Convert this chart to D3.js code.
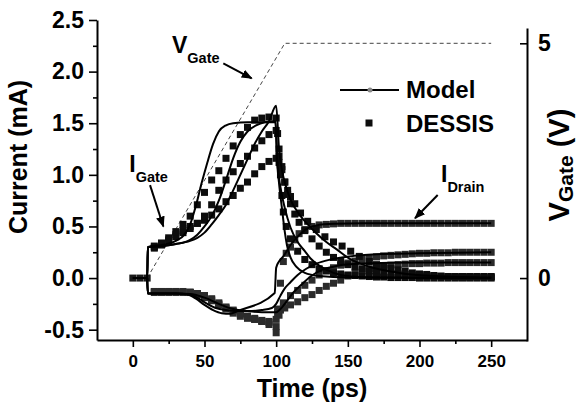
<!DOCTYPE html>
<html>
<head>
<meta charset="utf-8">
<script src="https://cdn.jsdelivr.net/npm/d3@7/dist/d3.min.js"></script>
<style>
    body { margin: 0; background: #fff; }
    svg { display: block; font-family: "Liberation Sans", Arial, sans-serif; font-weight: bold; }
</style>
</head>
<body>
<script>
// ---- data (time in ps, current in mA, gate voltage in V) ----
var xTicks = [0, 50, 100, 150, 200, 250];
var xMinor = [25, 75, 125, 175, 225];
var yTicks = [-0.5, 0, 0.5, 1.0, 1.5, 2.0, 2.5];
var yMinor = [-0.25, 0.25, 0.75, 1.25, 1.75, 2.25];
var vTicks = [0, 5];

var vGate = [[10, 0], [106, 5], [250, 5]];

// squares before the step, common to all DESSIS runs
var dessisStart = [[0, 0], [5, 0], [10, 0]];

var dessisGateA = [[15,0.31],[20,0.34],[25,0.39],[30,0.45],[35,0.52],[40,0.60],[45,0.71],[50,0.83],[55,0.95],[60,1.04],[65,1.16],[70,1.28],[75,1.39],[80,1.46],[85,1.53],[90,1.55],[95,1.56],[100,1.55],
    [101,1.40],[102,1.18],[103,1.00],[104,0.80],[105,0.64],[107,0.50],[110,0.38],[115,0.26],[120,0.18],[125,0.13],[130,0.09],[135,0.07],[140,0.05],[145,0.04],[150,0.03],[155,0.025],[160,0.02],[165,0.015],[170,0.01],[175,0.01],[180,0.005],[185,0.005],[190,0.005],[195,0.005],[200,0],[205,0],[210,0],[215,0],[220,0],[225,0],[230,0],[235,0],[240,0],[245,0],[250,0]];
var dessisGateB = [[15,0.30],[20,0.33],[25,0.36],[30,0.40],[35,0.44],[40,0.48],[45,0.53],[50,0.60],[55,0.71],[60,0.85],[65,0.95],[70,1.03],[75,1.11],[80,1.18],[85,1.26],[90,1.33],[95,1.39],[100,1.43],
    [102,1.25],[104,1.08],[106,0.93],[108,0.81],[110,0.72],[113,0.62],[116,0.54],[120,0.46],[125,0.38],[130,0.31],[135,0.25],[140,0.20],[145,0.16],[150,0.13],[155,0.11],[160,0.09],[165,0.07],[170,0.06],[175,0.05],[180,0.045],[185,0.04],[190,0.035],[195,0.03],[200,0.025],[205,0.02],[210,0.02],[215,0.015],[220,0.015],[225,0.01],[230,0.01],[235,0.01],[240,0.01],[245,0.01],[250,0.01]];
var dessisGateC = [[15,0.29],[20,0.32],[25,0.37],[30,0.42],[35,0.46],[40,0.50],[45,0.53],[50,0.56],[55,0.61],[60,0.67],[65,0.74],[70,0.80],[75,0.87],[80,0.93],[85,1.01],[90,1.08],[95,1.13],[100,1.16],
    [102,1.12],[104,1.05],[106,0.93],[108,0.85],[110,0.79],[113,0.72],[117,0.63],[122,0.55],[128,0.47],[134,0.40],[140,0.35],[146,0.31],[152,0.26],[158,0.21],[165,0.16],[170,0.13],[175,0.11],[180,0.095],[185,0.08],[190,0.065],[195,0.05],[200,0.04],[205,0.035],[210,0.025],[215,0.02],[220,0.015],[225,0.015],[230,0.015],[235,0.015],[240,0.015],[245,0.015],[250,0.015]];

var dessisDrainA = [[15,-0.13],[20,-0.13],[25,-0.13],[30,-0.13],[35,-0.135],[40,-0.14],[45,-0.16],[50,-0.19],[55,-0.22],[60,-0.25],[65,-0.29],[70,-0.32],[75,-0.35],[80,-0.37],[85,-0.39],[90,-0.41],[95,-0.43],[100,-0.47],
    [101,-0.30],[103,-0.05],[105,0.16],[107,0.24],[110,0.30],[113,0.37],[116,0.43],[120,0.47],[125,0.50],[130,0.515],[135,0.52],[140,0.525],[145,0.53],[150,0.53],[155,0.53],[160,0.53],[165,0.53],[170,0.53],[175,0.53],[180,0.53],[185,0.53],[190,0.53],[195,0.53],[200,0.53],[205,0.53],[210,0.53],[215,0.53],[220,0.53],[225,0.53],[230,0.53],[235,0.53],[240,0.53],[245,0.53],[250,0.53]];
var dessisDrainB = [[15,-0.13],[20,-0.13],[25,-0.13],[30,-0.13],[35,-0.13],[40,-0.135],[45,-0.15],[50,-0.17],[55,-0.20],[60,-0.24],[65,-0.28],[70,-0.31],[75,-0.34],[80,-0.37],[85,-0.40],[90,-0.42],[95,-0.45],[100,-0.53],
    [102,-0.36],[105,-0.24],[110,-0.17],[115,-0.12],[120,-0.07],[125,-0.02],[130,0.03],[135,0.07],[140,0.10],[145,0.125],[150,0.145],[155,0.165],[160,0.18],[165,0.195],[170,0.205],[175,0.215],[180,0.22],[185,0.225],[190,0.23],[195,0.235],[200,0.24],[205,0.24],[210,0.245],[215,0.245],[220,0.245],[225,0.25],[230,0.25],[235,0.25],[240,0.25],[245,0.25],[250,0.25]];
var dessisDrainC = [[15,-0.14],[20,-0.14],[25,-0.14],[30,-0.14],[35,-0.14],[40,-0.14],[45,-0.15],[50,-0.17],[55,-0.21],[60,-0.26],[65,-0.30],[70,-0.34],[75,-0.37],[80,-0.39],[85,-0.40],[90,-0.42],[95,-0.42],[100,-0.40],
    [101,-0.34],[103,-0.31],[106,-0.29],[110,-0.26],[115,-0.23],[120,-0.19],[125,-0.16],[130,-0.12],[135,-0.08],[140,-0.05],[145,-0.02],[150,0.02],[155,0.05],[160,0.07],[165,0.09],[170,0.105],[175,0.115],[180,0.125],[185,0.13],[190,0.135],[195,0.14],[200,0.14],[205,0.145],[210,0.145],[215,0.145],[220,0.15],[225,0.15],[230,0.15],[235,0.15],[240,0.15],[245,0.15],[250,0.15]];

var modelGateA = [[0,0],[10,0],[10.5,0.30],[20,0.32],[30,0.36],[36,0.42],[40,0.52],[44,0.70],[48,0.92],[52,1.12],[56,1.30],[60,1.42],[65,1.48],[70,1.50],[80,1.51],[90,1.51],[99.5,1.51],[100.5,1.16],[102,0.92],[104,0.68],[106,0.45],[107.5,0.32],[110,0.20],[114,0.11],[120,0.05],[130,0.02],[150,0.005],[250,0]];
var modelGateB = [[0,0],[10,0],[10.5,0.30],[20,0.31],[30,0.33],[40,0.37],[45,0.42],[50,0.50],[55,0.60],[60,0.75],[65,0.95],[70,1.16],[75,1.32],[80,1.42],[86,1.48],[92,1.51],[99.5,1.52],[101,1.10],[103,0.88],[106,0.68],[110,0.49],[115,0.35],[120,0.26],[124,0.19],[130,0.12],[140,0.05],[152,0.015],[170,0.005],[250,0]];
var modelGateC = [[0,0],[10,0],[10.5,0.30],[20,0.31],[30,0.33],[40,0.36],[45,0.39],[50,0.44],[55,0.52],[60,0.61],[65,0.71],[70,0.85],[75,1.00],[80,1.15],[85,1.30],[90,1.42],[95,1.52],[100,1.67],[102,1.25],[104,1.05],[107,0.88],[110,0.76],[116,0.62],[122,0.52],[128,0.435],[135,0.35],[142,0.28],[152,0.18],[165,0.11],[186,0.05],[210,0.02],[250,0.005]];

var modelDrainA = [[10,0],[10.5,-0.15],[20,-0.15],[30,-0.15],[38,-0.16],[44,-0.20],[50,-0.26],[56,-0.31],[62,-0.34],[68,-0.345],[73,-0.32],[99,-0.145],[100,0.10],[102,0.16],[105,0.21],[110,0.32],[117,0.43],[123,0.49],[128,0.51],[140,0.525],[160,0.53],[250,0.53]];
var modelDrainB = [[10,0],[10.5,-0.15],[30,-0.15],[40,-0.16],[46,-0.20],[52,-0.25],[58,-0.29],[65,-0.31],[72,-0.32],[80,-0.32],[90,-0.31],[97,-0.29],[100,-0.25],[103,-0.17],[106,-0.10],[110,-0.04],[115,0.03],[121,0.09],[128,0.14],[138,0.18],[151,0.21],[170,0.23],[200,0.24],[250,0.25]];
var modelDrainC = [[10,0],[10.5,-0.15],[30,-0.15],[40,-0.155],[50,-0.19],[60,-0.25],[70,-0.30],[80,-0.32],[90,-0.33],[100,-0.33],[103,-0.30],[106,-0.25],[112,-0.14],[118,-0.06],[124,0.015],[132,0.08],[140,0.11],[147,0.13],[160,0.14],[200,0.15],[250,0.15]];

// label anchors in data units: [time, current]
var vGateLabel = [27.3, 2.18], vGateArrow = [[63.1, 2.08], [82.9, 1.935]];
var iGateLabel = [-2.5, 1.03], iGateArrow = [[12.0, 0.90], [21.3, 0.50]];
var iDrainLabel = [215, 0.93], iDrainArrow = [[212.7, 0.805], [196.9, 0.58]];

(function() {
    var w = 579,
        h = 405;
    var left = 97, right = 527, top = 20, bottom = 340;

    var svg = d3.select('body').append('svg')
        .attr('width', w)
        .attr('height', h);

    var x = d3.scaleLinear().domain([-25, 275]).range([left, right]);
    var y = d3.scaleLinear().domain([-0.6, 2.5]).range([bottom, top]);
    // right axis: 0 V and 5 V sit on their own positions
    var yV = d3.scaleLinear().domain([0, 5]).range([y(0), 43.3]);

    var defs = svg.append('defs');
    defs.append('marker')
        .attr('id', 'head')
        .attr('viewBox', '0 0 10 8')
        .attr('refX', 9)
        .attr('refY', 4)
        .attr('markerUnits', 'userSpaceOnUse')
        .attr('markerWidth', 11)
        .attr('markerHeight', 9)
        .attr('orient', 'auto')
        .append('path')
        .attr('d', 'M0,0L10,4L0,8Z')
        .attr('fill', '#000');

    // ---- axes ----
    function styleAxis(g, size) {
        g.select('.domain').attr('stroke-width', 2);
        g.selectAll('.tick line').attr('stroke-width', 1.6);
        g.selectAll('text')
            .attr('font-family', '"Liberation Sans", Arial, sans-serif')
            .attr('font-weight', 'bold')
            .attr('font-size', size)
            .attr('fill', '#000');
    }

    var gx = svg.append('g')
        .attr('transform', 'translate(0,' + bottom + ')')
        .call(d3.axisBottom(x).tickValues(xTicks).tickSize(7).tickSizeOuter(0).tickPadding(8));
    styleAxis(gx, 17);
    var gxm = svg.append('g')
        .attr('transform', 'translate(0,' + bottom + ')')
        .call(d3.axisBottom(x).tickValues(xMinor).tickSize(4).tickSizeOuter(0).tickFormat(''));
    gxm.select('.domain').remove();
    gxm.selectAll('.tick line').attr('stroke-width', 1.6);

    var gy = svg.append('g')
        .attr('transform', 'translate(' + left + ',0)')
        .call(d3.axisLeft(y).tickValues(yTicks).tickSize(8).tickSizeOuter(0).tickPadding(5)
            .tickFormat(function(d) { return d.toFixed(1); }));
    styleAxis(gy, 23);
    var gym = svg.append('g')
        .attr('transform', 'translate(' + left + ',0)')
        .call(d3.axisLeft(y).tickValues(yMinor).tickSize(4).tickSizeOuter(0).tickFormat(''));
    gym.select('.domain').remove();
    gym.selectAll('.tick line').attr('stroke-width', 1.6);

    var yVaxis = yV.copy().domain([yV.invert(bottom + 1), yV.invert(28)]).range([bottom + 1, 28]);
    var gv = svg.append('g')
        .attr('transform', 'translate(' + right + ',0)')
        .call(d3.axisRight(yVaxis).tickValues(vTicks).tickSize(-7).tickSizeOuter(0).tickPadding(11)
            .tickFormat(d3.format('d')));
    styleAxis(gv, 23);

    // axis titles
    svg.append('text')
        .attr('x', (left + right) / 2)
        .attr('y', 397)
        .attr('text-anchor', 'middle')
        .attr('font-size', 25)
        .text('Time (ps)');
    svg.append('text')
        .attr('transform', 'translate(27,157) rotate(-90)')
        .attr('text-anchor', 'middle')
        .attr('font-size', 25)
        .text('Current (mA)');
    var vt = svg.append('text')
        .attr('transform', 'translate(569,165) rotate(-90)')
        .attr('text-anchor', 'middle')
        .attr('font-size', 29);
    vt.append('tspan').text('V');
    vt.append('tspan').attr('font-size', 21).attr('dy', 4).text('Gate');
    vt.append('tspan').attr('dy', -4).text(' (V)');

    // ---- gate voltage (right axis) ----
    svg.append('path')
        .datum(vGate)
        .attr('fill', 'none')
        .attr('stroke', '#444')
        .attr('stroke-width', 1)
        .attr('stroke-dasharray', '4,3')
        .attr('d', d3.line().x(function(d) { return x(d[0]); }).y(function(d) { return yV(d[1]); }));

    // ---- DESSIS squares ----
    var sq = 7;
    var dessis = [
        {pts: dessisStart, fill: '#1a1a1a'},
        {pts: dessisDrainA, fill: '#2b2b2b'},
        {pts: dessisDrainB, fill: '#2b2b2b'},
        {pts: dessisDrainC, fill: '#2b2b2b'},
        {pts: dessisGateC, fill: '#0d0d0d'},
        {pts: dessisGateB, fill: '#0d0d0d'},
        {pts: dessisGateA, fill: '#0d0d0d'}
    ];
    svg.append('g')
        .selectAll('g')
        .data(dessis)
        .enter()
        .append('g')
        .attr('fill', function(d) { return d.fill; })
        .selectAll('rect')
        .data(function(d) { return d.pts; })
        .enter()
        .append('rect')
        .attr('x', function(d) { return x(d[0]) - sq / 2; })
        .attr('y', function(d) { return y(d[1]) - sq / 2; })
        .attr('width', sq)
        .attr('height', sq);

    // ---- model lines ----
    var line = d3.line()
        .x(function(d) { return x(d[0]); })
        .y(function(d) { return y(d[1]); })
        .curve(d3.curveMonotoneX);
    svg.append('g')
        .selectAll('path')
        .data([modelGateA, modelGateB, modelGateC, modelDrainA, modelDrainB, modelDrainC])
        .enter()
        .append('path')
        .attr('fill', 'none')
        .attr('stroke', '#000')
        .attr('stroke-width', 2)
        .attr('stroke-linejoin', 'round')
        .attr('d', line);

    // ---- annotations ----
    function label(pos, main, sub) {
        var t = svg.append('text')
            .attr('x', x(pos[0]))
            .attr('y', y(pos[1]))
            .attr('font-size', 23);
        t.append('tspan').text(main);
        t.append('tspan').attr('font-size', 14.5).attr('dy', 10).text(sub);
    }
    function arrow(a) {
        svg.append('line')
            .attr('x1', x(a[0][0])).attr('y1', y(a[0][1]))
            .attr('x2', x(a[1][0])).attr('y2', y(a[1][1]))
            .attr('stroke', '#000')
            .attr('stroke-width', 2)
            .attr('marker-end', 'url(#head)');
    }
    label(vGateLabel, 'V', 'Gate');
    arrow(vGateArrow);
    label(iGateLabel, 'I', 'Gate');
    arrow(iGateArrow);
    label(iDrainLabel, 'I', 'Drain');
    arrow(iDrainArrow);

    // ---- legend ----
    var lg = svg.append('g').attr('transform', 'translate(340,0)');
    lg.append('line')
        .attr('x1', 0).attr('x2', 59)
        .attr('y1', 90).attr('y2', 90)
        .attr('stroke', '#000')
        .attr('stroke-width', 2);
    lg.append('circle')
        .attr('cx', 30).attr('cy', 90).attr('r', 2.5)
        .attr('fill', '#888');
    lg.append('text')
        .attr('x', 66).attr('y', 98)
        .attr('font-size', 24)
        .text('Model');
    lg.append('rect')
        .attr('x', 29 - sq / 2).attr('y', 123 - sq / 2)
        .attr('width', sq).attr('height', sq)
        .attr('fill', '#0d0d0d');
    lg.append('text')
        .attr('x', 66).attr('y', 132)
        .attr('font-size', 24)
        .text('DESSIS');
})();
</script>
</body>
</html>
